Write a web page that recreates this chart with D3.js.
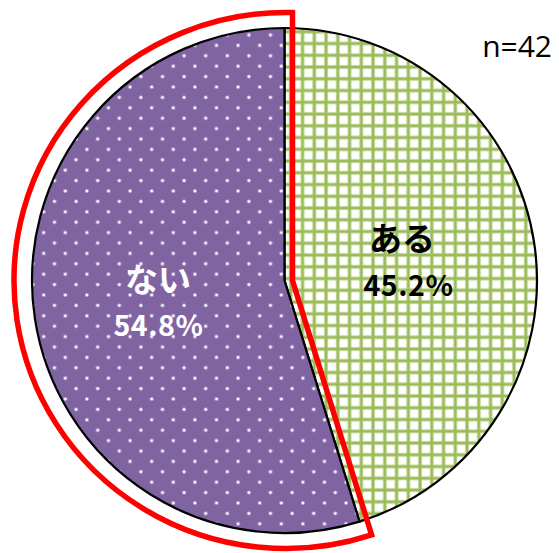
<!DOCTYPE html>
<html>
<head>
<meta charset="utf-8">
<script src="https://cdn.jsdelivr.net/npm/d3@7"></script>
<style>
  html, body { margin: 0; padding: 0; background: #fff; }
  svg { display: block; }
</style>
</head>
<body>
<svg id="chart" width="559" height="553"></svg>
<script>
// Survey answers: share of respondents (n=42)
const categories = ["ある", "ない"];
const percents = [45.2, 54.8];
const sampleLabel = "n=42";

const width = 559, height = 553;
const cx = 284.5, cy = 280.5, radius = 252.5;

const svg = d3.select("#chart");
const defs = svg.append("defs");

// Green check pattern for the first slice
const gs = 11.75;
const grid = defs.append("pattern")
  .attr("id", "gridFill")
  .attr("patternUnits", "userSpaceOnUse")
  .attr("width", gs).attr("height", gs)
  .attr("x", 288.3 - gs * 25).attr("y", 33.3 - gs * 3);
grid.append("rect").attr("width", gs).attr("height", gs).attr("fill", "#fff");
function gridLines(w, color) {
  [0, gs].forEach(o => {
    grid.append("rect").attr("x", o - w / 2).attr("y", 0).attr("width", w).attr("height", gs).attr("fill", color);
    grid.append("rect").attr("x", 0).attr("y", o - w / 2).attr("width", gs).attr("height", w).attr("fill", color);
  });
}
gridLines(4.2, "#d6e5bb");
gridLines(2.6, "#9bbb59");

// Purple dotted pattern for the second slice
const pw = 21.6, ph = 20.8;
const dots = defs.append("pattern")
  .attr("id", "dotFill")
  .attr("patternUnits", "userSpaceOnUse")
  .attr("width", pw).attr("height", ph)
  .attr("x", 40 - pw * 2).attr("y", 243.3 - ph * 12);
dots.append("rect").attr("width", pw).attr("height", ph).attr("fill", "#8064a2");
[[0, 0], [pw, 0], [0, ph], [pw, ph], [pw / 2, ph / 2]].forEach(([x, y]) => {
  dots.append("circle").attr("cx", x).attr("cy", y).attr("r", 2.1).attr("fill", "#b7a6cc");
  dots.append("circle").attr("cx", x).attr("cy", y).attr("r", 1.2).attr("fill", "#ffffff");
});

const fills = ["url(#gridFill)", "url(#dotFill)"];

const pie = d3.pie().sort(null).value(d => d);
const arcs = pie(percents);
const arcGen = d3.arc().innerRadius(0).outerRadius(radius);

const g = svg.append("g").attr("transform", `translate(${cx},${cy})`);

g.selectAll("path.slice")
  .data(arcs)
  .join("path")
  .attr("class", "slice")
  .attr("d", arcGen)
  .attr("fill", (d, i) => fills[i])
  .attr("stroke", "#000")
  .attr("stroke-width", 2.2)
  .attr("stroke-linejoin", "miter");

// Red highlight frame around the "ない" slice, slightly offset outward
const hl = arcs[1];
const fcx = 286, fcy = 280.5, frx = 272, fry = 268;
const shift = 8;
const vx = cx + shift, vy = cy;
// direction of the slice's starting radial edge (angle measured clockwise from 12 o'clock)
const dx = Math.sin(hl.startAngle), dy = -Math.cos(hl.startAngle);
// intersection of the shifted edge line with the frame ellipse
function hitEllipse(px, py, ux, uy) {
  const ax = px - fcx, ay = py - fcy;
  const A = (ux * ux) / (frx * frx) + (uy * uy) / (fry * fry);
  const B = 2 * ((ax * ux) / (frx * frx) + (ay * uy) / (fry * fry));
  const C = (ax * ax) / (frx * frx) + (ay * ay) / (fry * fry) - 1;
  const t = (-B + Math.sqrt(B * B - 4 * A * C)) / (2 * A);
  return [px + t * ux, py + t * uy];
}
const pBottom = hitEllipse(vx, vy, dx, dy);
const pTop = hitEllipse(vx, vy, 0, -1);
const frame = d3.path();
frame.moveTo(vx, vy);
frame.lineTo(pBottom[0], pBottom[1]);
const frameStr = frame.toString() +
  ` A ${frx} ${fry} 0 1 1 ${pTop[0]} ${pTop[1]} Z`;
svg.append("path")
  .attr("d", frameStr)
  .attr("fill", "none")
  .attr("stroke", "#ff0000")
  .attr("stroke-width", 5.5)
  .attr("stroke-linejoin", "miter");

// Slice labels
const labelPos = [
  { name: [402, 251], pct: [408.5, 296], color: "#000" },
  { name: [158, 292], pct: [158.5, 336], color: "#fff" }
];
const labels = svg.append("g")
  .attr("font-family", "'Noto Sans CJK JP', 'Noto Sans', sans-serif")
  .attr("font-weight", "bold")
  .attr("text-anchor", "middle");
arcs.forEach((a, i) => {
  labels.append("text")
    .attr("x", labelPos[i].name[0]).attr("y", labelPos[i].name[1])
    .attr("font-size", 33)
    .attr("fill", labelPos[i].color)
    .text(categories[i]);
  labels.append("text")
    .attr("x", labelPos[i].pct[0]).attr("y", labelPos[i].pct[1])
    .attr("font-size", 28.5)
    .attr("letter-spacing", 0.6)
    .attr("fill", labelPos[i].color)
    .text(d3.format(".1f")(a.data) + "%");
});

svg.append("text")
  .attr("x", 552).attr("y", 57)
  .attr("text-anchor", "end")
  .attr("font-family", "'Open Sans', sans-serif")
  .attr("font-size", 30)
  .attr("fill", "#000")
  .text(sampleLabel);
</script>
</body>
</html>
